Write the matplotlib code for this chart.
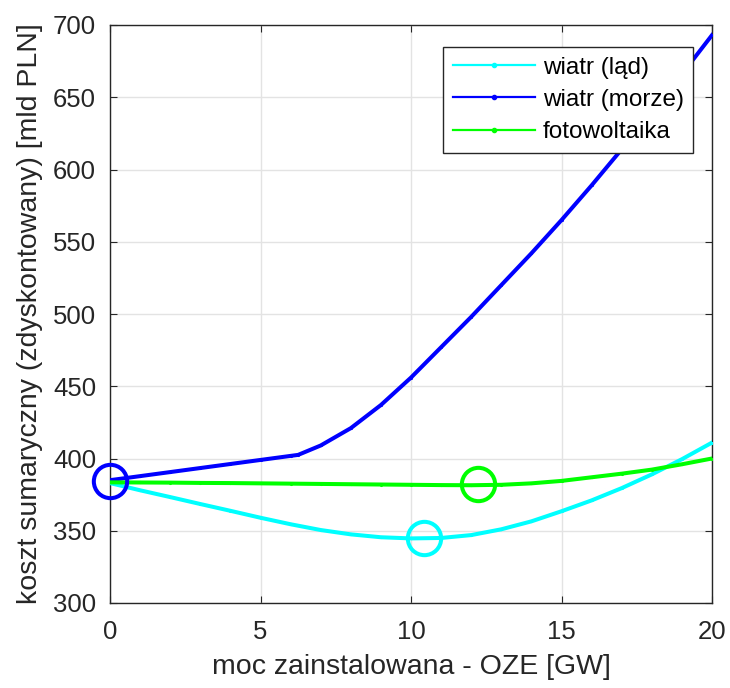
import matplotlib
matplotlib.use("Agg")
import matplotlib.pyplot as plt

plt.rcParams['font.family'] = ['Liberation Sans', 'DejaVu Sans']

# data
x_int = list(range(0, 21))
wiatr_lad = [383, 378, 373.3, 368.5, 363.8, 359, 354.5, 350.5, 347.5, 345.5, 344.7,
             345, 347, 351, 356.5, 363.5, 371, 379.5, 389, 399.5, 411]
x_morze = [0, 1, 2, 3, 4, 5, 6, 6.25, 7, 8, 9, 10, 11, 12, 13, 14, 15, 16, 17, 18, 19, 20]
wiatr_morze = [385, 387.8, 390.6, 393.4, 396.2, 399, 401.8, 402.5, 409, 421, 437, 456,
               477, 498, 520, 542, 565, 589, 614, 640, 666, 693]
fotowoltaika = [383.5, 383.4, 383.3, 383.1, 383, 382.8, 382.6, 382.4, 382.2, 382, 381.8,
                381.6, 381.5, 381.8, 382.8, 384.5, 387, 389.5, 392.3, 396, 400]
min_x = [0, 10.44, 12.21]
min_y = [384.7, 345.2, 382.2]
labels = ['wiatr (ląd)', 'wiatr (morze)', 'fotowoltaika']
colors = ['#00ffff', '#0000ff', '#00ff00']
x_ticks = [0, 5, 10, 15, 20]
y_ticks = [300, 350, 400, 450, 500, 550, 600, 650, 700]

fig = plt.figure(figsize=(7.3, 6.88), dpi=100)
ax = fig.add_axes([110/730, 1-603/688, 602/730, 578/688])

ax.plot(x_int, wiatr_lad, '.-', color=colors[0], lw=2.9, ms=2.5, label=labels[0], zorder=3)
ax.plot(x_morze, wiatr_morze, '.-', color=colors[1], lw=2.9, ms=2.5, label=labels[1], zorder=3)
ax.plot(x_int, fotowoltaika, '.-', color=colors[2], lw=2.9, ms=2.5, label=labels[2], zorder=3)

circle_colors = [colors[1], colors[0], colors[2]]
for mx, my, c in zip(min_x, min_y, circle_colors):
    ax.plot([mx], [my], 'o', mfc='none', mec=c, ms=24, mew=2.9, zorder=4, clip_on=False)

ax.set_xlim(0, 20)
ax.set_ylim(300, 700)
ax.set_xticks(x_ticks)
ax.set_yticks(y_ticks)
ax.grid(True, color='#e3e3e3', lw=1)
ax.set_axisbelow(True)
ax.tick_params(direction='in', length=5, top=True, right=True, labelsize=18.5,
               colors='#262626', width=0.8)
ax.tick_params(axis='x', pad=12)
ax.tick_params(axis='y', pad=10)
for s in ax.spines.values():
    s.set_color('#262626')
    s.set_linewidth(1.0)

ax.set_xlabel('moc zainstalowana - OZE [GW]', fontsize=20.5, color='#262626', va='center')
ax.set_ylabel('koszt sumaryczny (zdyskontowany) [mld PLN]', fontsize=20.5, color='#262626', va='center')
ax.xaxis.set_label_coords(0.5, (603-667)/578)
ax.yaxis.set_label_coords((30-110)/602, 0.5)

leg = ax.legend(loc='upper left', bbox_to_anchor=((443-110)/602, (603-47)/578),
                borderaxespad=0, fontsize=17.5, handlelength=3.4, fancybox=False,
                framealpha=1, edgecolor='#262626', borderpad=0.4, labelspacing=0.42,
                handletextpad=0.3, markerscale=2.4)
leg.get_frame().set_linewidth(1.0)
for h in leg.get_lines():
    h.set_linewidth(1.6)

fig.savefig('out.png', dpi=100, facecolor='white')
